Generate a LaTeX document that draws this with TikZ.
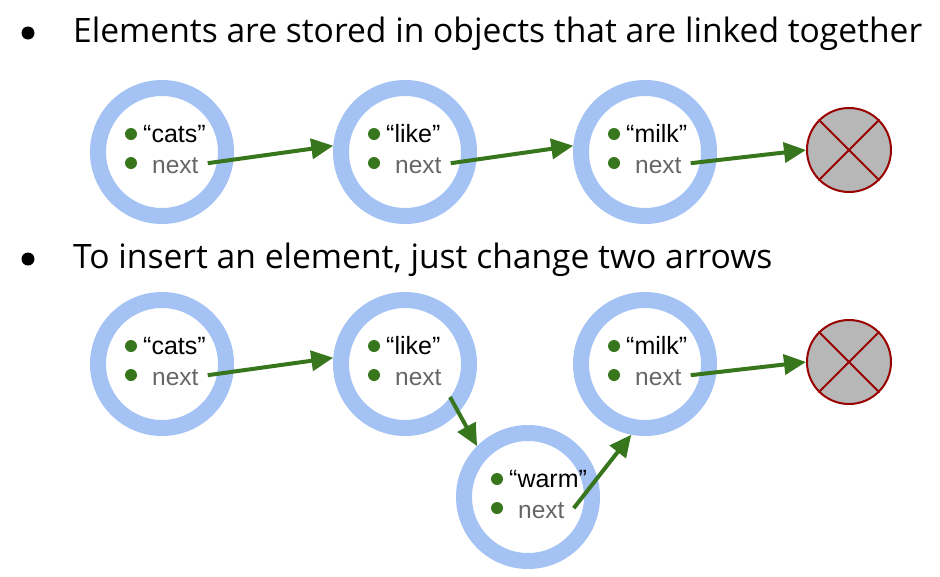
\documentclass[tikz,border=0pt]{standalone}
\usepackage{fontspec}
\setmainfont{Open Sans}
\newfontfamily\cellfont{Liberation Sans}
\usetikzlibrary{arrows.meta,calc}

\definecolor{ringblue}{HTML}{A4C2F4}
\definecolor{linkgreen}{HTML}{38761D}
\definecolor{nullred}{HTML}{990000}
\definecolor{nullgray}{HTML}{B7B7B7}
\definecolor{nextgray}{HTML}{666666}

\tikzset{
  ring/.style={circle, draw=ringblue, line width=16pt, minimum size=128pt, inner sep=0pt},
  nullnode/.style={circle, draw=nullred, fill=nullgray, line width=2pt, minimum size=84pt, inner sep=0pt},
  cross/.style={draw=nullred, line width=2pt},
  itemdot/.style={circle, fill=linkgreen, minimum size=12pt, inner sep=0pt},
  valtext/.style={anchor=base west, inner sep=0pt, font=\cellfont\fontsize{25}{25}\selectfont, text=black},
  nexttext/.style={anchor=base west, inner sep=0pt, font=\cellfont\fontsize{24.5}{24.5}\selectfont, text=nextgray},
  link/.style={draw=linkgreen, line width=4pt, -{Triangle[length=22pt,width=20pt]}},
  heading/.style={anchor=base west, inner sep=0pt, font=\fontsize{33.6}{34}\selectfont},
  bulletdot/.style={circle, fill=black, minimum size=13pt, inner sep=0pt}
}

% one list cell: ring, value line and "next" line
\newcommand{\listcell}[4]{%
  \node[ring] (#1) at (#2,#3) {};
  \node[itemdot] (#1d1) at ($(#1)+(-31,-18)$) {};
  \node[itemdot] (#1d2) at ($(#1)+(-31,11)$) {};
  \node[valtext] (#1v) at ($(#1)+(-19,-10)$) {“#4”};
  \node[nexttext] (#1n) at ($(#1)+(-10,21)$) {next};
}

% terminating null node
\newcommand{\nullcell}[3]{%
  \node[nullnode] (#1) at (#2,#3) {};
  \draw[cross] (#1.45) -- (#1.225);
  \draw[cross] (#1.135) -- (#1.315);
}

\begin{document}
\begin{tikzpicture}[x=1pt,y=-1pt]
\useasboundingbox (0,0) rectangle (940,576);

% headings
\node[bulletdot] (b1) at (28,33) {};
\node[heading] (h1) at (73,42) {Elements are stored in objects that are linked together};
\node[bulletdot] (b2) at (28,259) {};
\node[heading] (h2) at (73,268) {To insert an element, just change two arrows};

% first list
\listcell{a1}{162}{152}{cats}
\listcell{a2}{405}{152}{like}
\listcell{a3}{645}{152}{milk}
\nullcell{a4}{849}{150}

\draw[link] ($(a1n.east)+(9,-2)$) -- (a2.175);
\draw[link] ($(a2n.east)+(9,-2)$) -- (a3.175);
\draw[link] ($(a3n.east)+(9,-2)$) -- (a4.west);

% second list with inserted cell
\listcell{c1}{162}{364}{cats}
\listcell{c2}{405}{364}{like}
\listcell{c3}{645}{364}{milk}
\listcell{c5}{528}{497}{warm}
\nullcell{c4}{849}{362}

\draw[link] ($(c1n.east)+(9,-2)$) -- (c2.175);
\draw[link] ($(c2)+(45,33)$) -- (c5.135);
\draw[link] ($(c5n.east)+(9,-2)$) -- (c3.259);
\draw[link] ($(c3n.east)+(9,-2)$) -- (c4.west);

\end{tikzpicture}
\end{document}
